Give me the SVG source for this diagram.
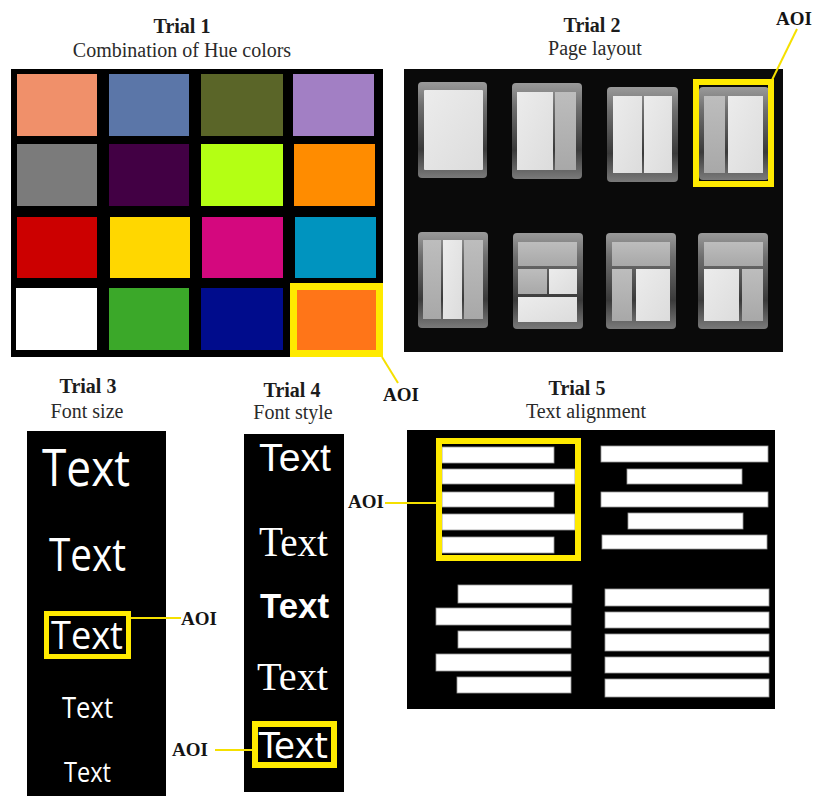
<svg xmlns="http://www.w3.org/2000/svg" width="816" height="796" viewBox="0 0 816 796">
  <defs>
    <linearGradient id="frameGrad" x1="0" y1="0" x2="0" y2="1">
      <stop offset="0" stop-color="#9a9a9a"/>
      <stop offset="0.25" stop-color="#6e6e6e"/>
      <stop offset="0.7" stop-color="#3a3a3a"/>
      <stop offset="1" stop-color="#7a7a7a"/>
    </linearGradient>
    <linearGradient id="lightGrad" x1="0" y1="0" x2="1" y2="1">
      <stop offset="0" stop-color="#ececec"/>
      <stop offset="1" stop-color="#dcdcdc"/>
    </linearGradient>
    <linearGradient id="darkGrad" x1="0" y1="0" x2="0" y2="1">
      <stop offset="0" stop-color="#bdbdbd"/>
      <stop offset="1" stop-color="#a8a8a8"/>
    </linearGradient>
  </defs>
  <style>
    .title { font-family: "Liberation Serif", "Times New Roman", serif; font-weight: bold; font-size: 20px; fill: #1c1c1c; text-anchor: middle; }
    .sub { font-family: "Liberation Serif", "Times New Roman", serif; font-size: 20px; fill: #2a2a2a; text-anchor: middle; }
    .aoi { font-family: "Liberation Serif", "Times New Roman", serif; font-weight: bold; font-size: 19px; fill: #141414; }
    .aoibox { fill: none; stroke: #ffea00; }
    .lead { stroke: #f5e000; stroke-width: 2; fill: none; }
    .frame { fill: url(#frameGrad); }
    .lt { fill: url(#lightGrad); }
    .dk { fill: url(#darkGrad); }
    .bar { fill: #ffffff; stroke: #9a9a9a; stroke-width: 0.8; }
    .w { fill: #ffffff; }
  </style>

  <rect width="816" height="796" fill="#ffffff"/>

  <!-- Trial 1: hue colour grid -->
  <g id="trial1">
    <text class="title" x="182" y="33">Trial 1</text>
    <text class="sub" x="182" y="57">Combination of Hue colors</text>
    <rect x="11" y="69" width="372" height="288" fill="#000000"/>
    <rect x="17" y="74" width="80" height="62" fill="#f0906a"/>
    <rect x="109" y="74" width="80" height="62" fill="#5b76a8"/>
    <rect x="201" y="74" width="82" height="62" fill="#5a6528"/>
    <rect x="293" y="74" width="81" height="62" fill="#a27fc4"/>
    <rect x="17" y="144" width="80" height="62" fill="#7b7b7b"/>
    <rect x="109" y="144" width="80" height="62" fill="#420044"/>
    <rect x="201" y="144" width="82" height="62" fill="#b4ff14"/>
    <rect x="294" y="144" width="81" height="62" fill="#ff8c00"/>
    <rect x="17" y="217" width="80" height="61" fill="#cc0000"/>
    <rect x="110" y="217" width="80" height="61" fill="#ffd700"/>
    <rect x="202" y="217" width="81" height="61" fill="#d4087e"/>
    <rect x="295" y="217" width="81" height="61" fill="#0094bf"/>
    <rect x="16" y="288" width="81" height="62" fill="#ffffff"/>
    <rect x="109" y="288" width="80" height="62" fill="#3ba829"/>
    <rect x="201" y="288" width="82" height="62" fill="#000c8c"/>
    <rect x="297" y="290" width="79" height="60" fill="#ff7518"/>
    <rect class="aoibox" x="293.5" y="286.5" width="86" height="67" stroke-width="7"/>
  </g>

  <!-- Trial 2: page layout icons -->
  <g id="trial2">
    <text class="title" x="592" y="32">Trial 2</text>
    <text class="sub" x="595" y="55">Page layout</text>
    <rect x="404" y="69" width="379" height="283" fill="#0a0a0a"/>
    <!-- row 1 -->
    <rect class="frame" x="418" y="82" width="69" height="96" rx="4"/>
    <rect class="lt" x="424" y="90" width="59" height="80" rx="1"/>

    <rect class="frame" x="512" y="83" width="70" height="96" rx="4"/>
    <rect class="lt" x="517" y="92" width="36" height="78"/>
    <rect class="dk" x="555" y="92" width="21" height="78"/>

    <rect class="frame" x="607" y="87" width="71" height="95" rx="4"/>
    <rect class="lt" x="613" y="96" width="29" height="77"/>
    <rect class="lt" x="644" y="96" width="28" height="77"/>

    <rect class="frame" x="699" y="87" width="70" height="93" rx="4"/>
    <rect class="dk" x="704" y="96" width="21" height="77"/>
    <rect class="lt" x="728" y="96" width="35" height="77"/>
    <rect class="aoibox" x="696" y="82" width="75" height="102" stroke-width="6"/>

    <!-- row 2 -->
    <rect class="frame" x="418" y="232" width="70" height="96" rx="4"/>
    <rect class="dk" x="423" y="240" width="18" height="79"/>
    <rect class="lt" x="443" y="240" width="19" height="79"/>
    <rect class="dk" x="464" y="240" width="19" height="79"/>

    <rect class="frame" x="513" y="233" width="70" height="96" rx="4"/>
    <rect class="dk" x="518" y="242" width="59" height="24"/>
    <rect class="dk" x="518" y="269" width="29" height="25"/>
    <rect class="lt" x="549" y="269" width="28" height="25"/>
    <rect class="lt" x="518" y="297" width="59" height="25"/>

    <rect class="frame" x="606" y="233" width="70" height="96" rx="4"/>
    <rect class="dk" x="612" y="242" width="58" height="24"/>
    <rect class="dk" x="612" y="269" width="20" height="52"/>
    <rect class="lt" x="636" y="269" width="34" height="52"/>

    <rect class="frame" x="698" y="233" width="70" height="96" rx="4"/>
    <rect class="dk" x="704" y="242" width="59" height="24"/>
    <rect class="lt" x="704" y="269" width="35" height="52"/>
    <rect class="dk" x="742" y="269" width="21" height="52"/>
  </g>

  <!-- Trial 3: font size -->
  <g id="trial3">
    <text class="title" x="88" y="393">Trial 3</text>
    <text class="sub" x="87" y="418">Font size</text>
    <rect x="27" y="431" width="139" height="365" fill="#000000"/>
    <g font-family="'Open Sans', 'DejaVu Sans', sans-serif" fill="#ffffff">
      <text x="42" y="486" font-size="52" textLength="88" lengthAdjust="spacingAndGlyphs">Text</text>
      <text x="49" y="571" font-size="46" textLength="77" lengthAdjust="spacingAndGlyphs">Text</text>
      <text x="51" y="649" font-size="38" textLength="72" lengthAdjust="spacingAndGlyphs">Text</text>
      <text x="62" y="718" font-size="30" textLength="51" lengthAdjust="spacingAndGlyphs">Text</text>
      <text x="64" y="782" font-size="28" textLength="47" lengthAdjust="spacingAndGlyphs">Text</text>
    </g>
    <rect class="aoibox" x="46.5" y="613.5" width="82" height="43" stroke-width="5"/>
  </g>

  <!-- Trial 4: font style -->
  <g id="trial4">
    <text class="title" x="292" y="397">Trial 4</text>
    <text class="sub" x="293" y="419">Font style</text>
    <rect x="244" y="434" width="100" height="358" fill="#000000"/>
    <text x="259" y="471" class="w" font-family="'Liberation Sans', Arial, sans-serif" font-size="39" textLength="72" lengthAdjust="spacingAndGlyphs">Text</text>
    <text x="259" y="556" class="w" font-family="'Liberation Serif', 'Times New Roman', serif" font-size="43" textLength="69" lengthAdjust="spacingAndGlyphs">Text</text>
    <text x="260" y="618" class="w" font-family="'Liberation Sans', Arial, sans-serif" font-weight="bold" font-size="35" textLength="69" lengthAdjust="spacingAndGlyphs">Text</text>
    <text x="257" y="690" class="w" font-family="'Liberation Serif', 'Times New Roman', serif" font-size="41" textLength="71" lengthAdjust="spacingAndGlyphs">Text</text>
    <text x="259" y="758" class="w" font-family="'DejaVu Sans', sans-serif" font-size="36" textLength="69" lengthAdjust="spacingAndGlyphs">Text</text>
    <rect class="aoibox" x="255" y="724" width="79" height="41" stroke-width="6"/>
  </g>

  <!-- Trial 5: text alignment -->
  <g id="trial5">
    <text class="title" x="577" y="395">Trial 5</text>
    <text class="sub" x="586" y="418">Text alignment</text>
    <rect x="407" y="430" width="368" height="279" fill="#000000"/>
    <!-- left aligned -->
    <rect class="bar" x="442" y="447" width="112" height="16"/>
    <rect class="bar" x="442" y="469" width="133" height="15"/>
    <rect class="bar" x="442" y="492" width="112" height="15"/>
    <rect class="bar" x="442" y="514" width="133" height="16"/>
    <rect class="bar" x="442" y="537" width="112" height="16"/>
    <rect class="aoibox" x="439" y="441" width="139" height="117" stroke-width="6"/>
    <!-- centred -->
    <rect class="bar" x="601" y="446" width="167" height="16"/>
    <rect class="bar" x="627" y="469" width="115" height="15"/>
    <rect class="bar" x="601" y="492" width="167" height="15"/>
    <rect class="bar" x="628" y="513" width="115" height="16"/>
    <rect class="bar" x="602" y="535" width="165" height="14"/>
    <!-- right aligned -->
    <rect class="bar" x="458" y="585" width="114" height="18"/>
    <rect class="bar" x="436" y="608" width="135" height="17"/>
    <rect class="bar" x="458" y="631" width="113" height="17"/>
    <rect class="bar" x="436" y="654" width="135" height="17"/>
    <rect class="bar" x="457" y="677" width="114" height="16"/>
    <!-- justified -->
    <rect class="bar" x="605" y="589" width="164" height="17"/>
    <rect class="bar" x="605" y="612" width="164" height="16"/>
    <rect class="bar" x="605" y="634" width="164" height="17"/>
    <rect class="bar" x="605" y="657" width="164" height="16"/>
    <rect class="bar" x="605" y="679" width="164" height="18"/>
  </g>

  <!-- AOI call-out labels -->
  <g id="aoi-labels">
    <text class="aoi" x="383" y="401">AOI</text>
    <text class="aoi" x="776" y="25" font-size="20">AOI</text>
    <text class="aoi" x="181" y="625">AOI</text>
    <text class="aoi" x="172" y="756">AOI</text>
    <text class="aoi" x="348" y="508">AOI</text>
  </g>

  <!-- connectors from AOI boxes to their labels -->
  <g id="connectors">
    <line class="lead" x1="382" y1="357" x2="398" y2="383"/>
    <line class="lead" x1="797" y1="29" x2="772" y2="80"/>
    <line class="lead" x1="131" y1="618" x2="181" y2="618"/>
    <line class="lead" x1="215" y1="750" x2="252" y2="750"/>
    <line class="lead" x1="385" y1="503" x2="436" y2="503"/>
  </g>
</svg>
